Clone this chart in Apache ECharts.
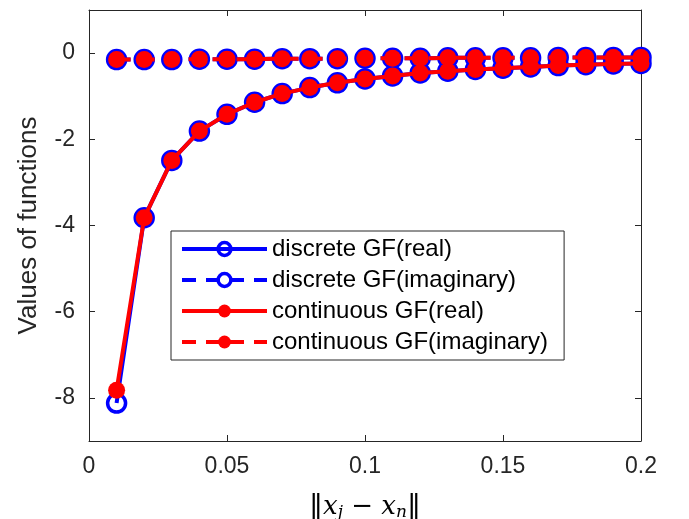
<!DOCTYPE html>
<html>
<head>
<meta charset="utf-8">
<script src="https://cdn.jsdelivr.net/npm/echarts@6/dist/echarts.min.js"></script>
<style>
  html, body { margin: 0; padding: 0; background: #fff; }
  #main { width: 689px; height: 519px; }
</style>
</head>
<body>
<div id="main"></div>
<script>
// distances ||x_j - x_n||
var xValues = [0.01, 0.02, 0.03, 0.04, 0.05, 0.06, 0.07, 0.08, 0.09, 0.10,
               0.11, 0.12, 0.13, 0.14, 0.15, 0.16, 0.17, 0.18, 0.19, 0.20];
var discreteReal = [-8.12, -3.82, -2.49, -1.81, -1.42, -1.14, -0.94, -0.80, -0.69, -0.60,
                    -0.53, -0.46, -0.42, -0.38, -0.35, -0.32, -0.29, -0.27, -0.25, -0.24];
var discreteImag = [-0.15, -0.15, -0.15, -0.14, -0.14, -0.14, -0.13, -0.13, -0.13, -0.12,
                    -0.12, -0.12, -0.11, -0.11, -0.11, -0.11, -0.10, -0.10, -0.10, -0.10];
var continuousReal = [-7.82, -3.82, -2.49, -1.81, -1.42, -1.14, -0.94, -0.80, -0.69, -0.60,
                      -0.53, -0.46, -0.42, -0.38, -0.35, -0.32, -0.29, -0.27, -0.25, -0.24];
var continuousImag = [-0.15, -0.15, -0.15, -0.14, -0.14, -0.14, -0.13, -0.13, -0.13, -0.12,
                      -0.12, -0.12, -0.11, -0.11, -0.11, -0.11, -0.10, -0.10, -0.10, -0.10];
var yTicks = [-8, -6, -4, -2, 0];
var seriesNames = ['discrete GF(real)', 'discrete GF(imaginary)', 'continuous GF(real)', 'continuous GF(imaginary)'];

function pairs(ys) {
    return xValues.map(function (x, i) { return [x, ys[i]]; });
}

var axisColor = '#262626';
var font = '"Liberation Sans", Arial, Helvetica, sans-serif';

var myChart = echarts.init(document.getElementById('main'));

var blueMarker = { color: 'rgba(0,0,0,0)', borderColor: '#0000ff', borderWidth: 3.5 };
var redMarker = { color: '#ff0000', borderColor: '#ff0000', borderWidth: 0 };

myChart.setOption({
    animation: false,
    backgroundColor: '#fff',
    textStyle: { fontFamily: font },
    grid: { left: 89, right: 48, top: 10, bottom: 78, outerBoundsMode: 'none', containLabel: false },
    legend: {
        orient: 'vertical',
        left: 171,
        top: 231,
        padding: [6, 16, 6, 9],
        itemGap: 7,
        itemWidth: 85,
        itemHeight: 16,
        borderColor: axisColor,
        borderWidth: 1,
        backgroundColor: '#fff',
        lineStyle: { width: 4 },
        itemStyle: { borderWidth: 'inherit' },
        textStyle: { fontSize: 24, color: '#000', fontFamily: font },
        data: seriesNames
    },
    xAxis: [{
        type: 'value',
        min: 0, max: 0.2, interval: 0.05,
        position: 'bottom',
        name: '{b|‖}{x|x}{s|j}{m| − }{x|x}{s|n}{b|‖}',
        nameLocation: 'middle',
        nameGap: 50,
        nameTextStyle: {
            rich: {
                b: { fontFamily: 'DejaVu Serif', fontSize: 28, color: '#000', lineHeight: 32, verticalAlign: 'middle' },
                x: { fontFamily: 'DejaVu Serif', fontStyle: 'italic', fontSize: 26, color: '#000', lineHeight: 32, verticalAlign: 'middle' },
                s: { fontFamily: 'DejaVu Serif', fontStyle: 'italic', fontSize: 17, color: '#000', lineHeight: 32, verticalAlign: 'bottom', padding: [0, 0, 2, 0] },
                m: { fontFamily: 'DejaVu Serif', fontSize: 26, color: '#000', lineHeight: 32, verticalAlign: 'middle' }
            }
        },
        axisLine: { onZero: false, lineStyle: { color: axisColor, width: 1 } },
        axisTick: { inside: true, length: 6, lineStyle: { color: axisColor } },
        axisLabel: { fontSize: 23, color: axisColor, margin: 14 },
        splitLine: { show: false }
    }, {
        type: 'value',
        min: 0, max: 0.2, interval: 0.05,
        position: 'top',
        axisLine: { onZero: false, lineStyle: { color: axisColor, width: 1 } },
        axisTick: { inside: true, length: 6, lineStyle: { color: axisColor } },
        axisLabel: { show: false },
        splitLine: { show: false }
    }],
    yAxis: [{
        type: 'value',
        min: -9, max: 1,
        position: 'left',
        name: 'Values of functions',
        nameLocation: 'middle',
        nameGap: 47,
        nameTextStyle: { fontSize: 26, color: axisColor, fontFamily: font },
        axisLine: { show: true, onZero: false, lineStyle: { color: axisColor, width: 1 } },
        axisTick: { show: true, inside: true, length: 6, customValues: yTicks, lineStyle: { color: axisColor } },
        axisLabel: { fontSize: 23, color: axisColor, margin: 14, customValues: yTicks },
        splitLine: { show: false }
    }, {
        type: 'value',
        min: -9, max: 1,
        position: 'right',
        axisLine: { show: true, onZero: false, lineStyle: { color: axisColor, width: 1 } },
        axisTick: { show: true, inside: true, length: 6, customValues: yTicks, lineStyle: { color: axisColor } },
        axisLabel: { show: false },
        splitLine: { show: false }
    }],
    series: [{
        name: seriesNames[0],
        type: 'line',
        z: 2,
        data: pairs(discreteReal),
        symbol: 'circle',
        symbolSize: 18,
        itemStyle: blueMarker,
        lineStyle: { color: '#0000ff', width: 4 }
    }, {
        name: seriesNames[1],
        type: 'line',
        z: 2,
        data: pairs(discreteImag),
        symbol: 'circle',
        symbolSize: 18,
        itemStyle: blueMarker,
        lineStyle: { color: '#0000ff', width: 4, type: [14, 10] }
    }, {
        name: seriesNames[2],
        type: 'line',
        z: 3,
        data: pairs(continuousReal),
        symbol: 'circle',
        symbolSize: 17,
        itemStyle: redMarker,
        lineStyle: { color: '#ff0000', width: 4 }
    }, {
        name: seriesNames[3],
        type: 'line',
        z: 3,
        data: pairs(continuousImag),
        symbol: 'circle',
        symbolSize: 17,
        itemStyle: redMarker,
        lineStyle: { color: '#ff0000', width: 4, type: [14, 10] }
    }]
});
</script>
</body>
</html>
